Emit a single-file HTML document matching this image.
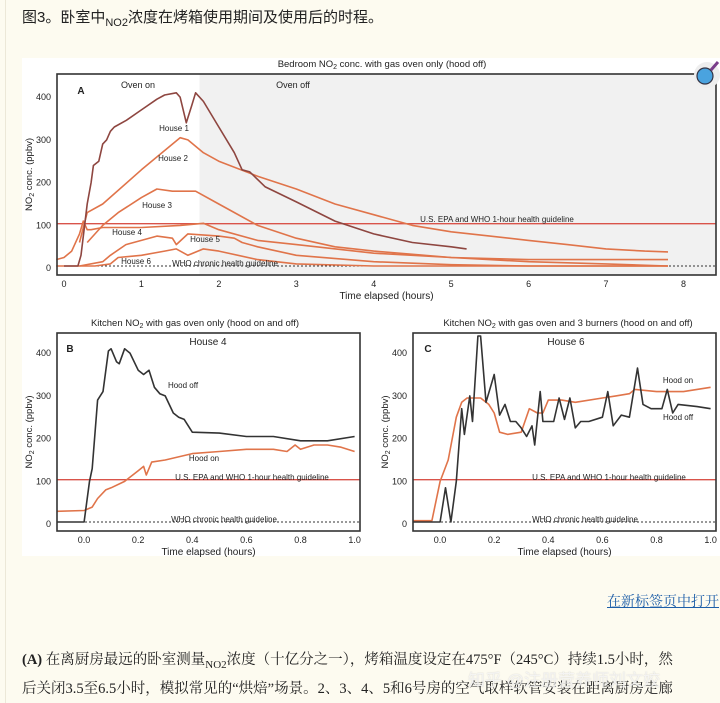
<!DOCTYPE html>
<html><head><meta charset="utf-8">
<style>
body{margin:0;width:720px;height:703px;overflow:hidden;background:#fdfbf0;font-family:"Liberation Sans","Noto Sans CJK SC",sans-serif;position:relative}
#border{position:absolute;left:5px;top:0;width:1px;height:703px;background:#ece8d8}
#title{position:absolute;left:22px;top:6px;font-size:15px;color:#222;font-family:"Liberation Sans","Noto Sans CJK SC",sans-serif}
#title sub{font-size:11px}
#card{position:absolute;left:22px;top:58px;width:698px;height:498px;background:#fff}
#link{position:absolute;left:607px;top:591px;font-size:14px;color:#1d5ea8;text-decoration:underline;white-space:nowrap;font-family:"Noto Serif CJK SC",serif}
.para{position:absolute;left:22px;font-size:14.5px;color:#222;white-space:nowrap;font-family:"Liberation Serif","Noto Serif CJK SC",serif}
.para sub{font-size:11px}
#wm{position:absolute;left:468px;top:666px;font-size:17px;color:rgba(255,255,255,0.75);white-space:nowrap;text-shadow:0 0 1px rgba(150,150,150,0.5)}
svg{position:absolute;left:0;top:0}
svg text{font-family:"Liberation Sans",sans-serif;fill:#222}
</style></head><body>
<div id="border"></div>
<div id="title">图3。卧室中<sub>NO2</sub>浓度在烤箱使用期间及使用后的时程。</div>
<div id="card"></div>
<svg id="chart" width="720" height="703"></svg>
<a id="link">在新标签页中打开</a>
<div class="para" style="top:648px"><b>(A)</b> 在离厨房最远的卧室测量<sub>NO2</sub>浓度（十亿分之一），烤箱温度设定在475°F（245°C）持续1.5小时，然</div>
<div class="para" style="top:677px">后关闭3.5至6.5小时，模拟常见的“烘焙”场景。2、3、4、5和6号房的空气取样软管安装在距离厨房走廊</div>
<div id="wm">知乎 @注册营养师刘文姣</div>
<script>
// Panel A data (hours, ppbv)
const aH1x=[0,0.18,0.22,0.3,0.35,0.38,0.45,0.5,0.55,0.6,0.65,0.8,1.0,1.2,1.3,1.45,1.5,1.58,1.65,1.7,1.8,2.0,2.2,2.3,2.4,2.6,3.0,3.5,4.0,4.5,5.0,5.2];
const aH1y=[5,5,30,150,200,240,250,290,300,320,330,345,370,395,405,410,400,340,380,410,390,330,270,230,225,190,155,110,80,60,50,45];
const aH2x=[0.2,0.3,0.5,1.0,1.5,1.6,1.8,2.0,2.5,3.0,3.5,4.0,4.5,5.0,5.5,6.0,6.5,7.0,7.5,7.8];
const aH2y=[60,130,150,230,305,300,270,250,215,185,150,125,100,85,75,65,55,45,40,38];
const aH3x=[0.3,0.5,0.7,1.0,1.2,1.4,1.7,2.0,2.5,3.0,3.5,4.0,5.0,6.0,7.0,7.8];
const aH3y=[60,100,130,165,185,180,180,150,100,70,50,40,25,15,10,5];
const aH4x=[-0.1,0,0.1,0.2,0.25,0.3,0.35,0.5,1.0,1.5,1.8,2.0,2.5,3.0,4.0,5.0,6.0,7.0,7.8];
const aH4y=[20,25,40,80,110,90,90,95,95,100,105,90,65,55,35,25,20,20,20];
const aH5x=[0.2,0.5,0.6,0.8,1.0,1.2,1.4,1.45,1.6,2.0,2.2,2.3,2.5,3.0,4.0,5.0,6.0,7.8];
const aH5y=[5,15,30,55,65,75,70,55,80,75,70,60,50,30,15,8,5,5];
const aH6x=[-0.1,0.4,0.6,0.7,1.0,1.3,1.45,1.6,1.8,2.0,2.5,3.0,4.0,6.0,7.8];
const aH6y=[5,5,10,25,30,40,45,30,45,40,20,10,5,5,5];
const aXTicks=[0,1,2,3,4,5,6,7,8];
const yTicks=[0,100,200,300,400];
// Panel B data
const bOffX=[-0.1,0.0,0.02,0.03,0.05,0.07,0.09,0.1,0.12,0.13,0.15,0.17,0.2,0.22,0.24,0.26,0.28,0.3,0.33,0.35,0.37,0.4,0.5,0.6,0.7,0.8,0.9,1.0];
const bOffY=[5,5,100,130,290,310,405,410,380,375,410,400,360,350,360,320,305,300,260,250,245,215,213,205,205,195,195,205];
const bOnX=[-0.1,0.0,0.03,0.05,0.08,0.1,0.15,0.2,0.22,0.23,0.25,0.3,0.4,0.5,0.6,0.7,0.75,0.78,0.8,0.85,0.9,0.95,1.0];
const bOnY=[30,32,40,60,80,85,100,125,135,115,145,150,165,170,175,175,170,185,175,185,185,180,170];
// Panel C data
const cOnX=[-0.1,-0.03,0.0,0.03,0.06,0.08,0.1,0.15,0.18,0.2,0.22,0.25,0.3,0.33,0.36,0.38,0.4,0.45,0.5,0.6,0.65,0.7,0.72,0.8,0.9,1.0];
const cOnY=[8,8,100,150,250,285,295,295,280,260,215,210,215,270,260,260,290,290,285,295,300,305,315,310,310,320];
const cOffX=[-0.1,0.0,0.02,0.04,0.06,0.08,0.09,0.11,0.12,0.14,0.15,0.17,0.2,0.22,0.24,0.26,0.28,0.3,0.32,0.34,0.35,0.37,0.38,0.42,0.44,0.46,0.48,0.5,0.52,0.55,0.6,0.62,0.64,0.67,0.7,0.73,0.75,0.78,0.82,0.84,0.86,0.88,0.95,1.0];
const cOffY=[5,5,85,5,100,270,210,300,240,440,440,285,350,255,280,240,240,225,205,230,185,310,240,240,295,245,295,225,240,240,250,310,230,255,250,365,280,270,270,315,260,280,275,270];
const bcXTicks=[0.0,0.2,0.4,0.6,0.8,1.0];

const svg=document.getElementById('chart');
const NS='http://www.w3.org/2000/svg';
function mk(tag,attrs,parent){const e=document.createElementNS(NS,tag);for(const k in attrs)e.setAttribute(k,attrs[k]);(parent||svg).appendChild(e);return e;}
function txt(x,y,s,size,anchor,parent){const t=mk('text',{x:x,y:y,'font-size':size,'text-anchor':anchor||'middle'},parent);t.textContent=s;return t;}

function panel(P){
  const g=mk('g',{});
  
  
  const sx=v=>P.x0+(v-P.xmin)/(P.xmax-P.xmin)*(P.x1-P.x0);
  const sy=v=>P.yb-(v-P.ymin)/(P.ymax-P.ymin)*(P.yb-P.yt);
  if(P.shadeFrom!=null){const r=mk('rect',{x:sx(P.shadeFrom),y:P.yt,width:P.x1-sx(P.shadeFrom),height:P.yb-P.yt,fill:'#f1f1f1'},g);
    
    }
  const epa=mk('line',{x1:P.x0,x2:P.x1,y1:sy(104),y2:sy(104),stroke:'#d9534a','stroke-width':1.4},g);
  
  
  const who=mk('line',{x1:P.x0,x2:P.x1,y1:sy(5),y2:sy(5),stroke:'#333','stroke-width':1,'stroke-dasharray':'2,2'},g);
  
  
  P.series.forEach(s=>{
    const pts=s.x.map((v,i)=>sx(v).toFixed(1)+','+sy(s.y[i]).toFixed(1)).join(' ');
    const pl=mk('polyline',{points:pts,fill:'none',stroke:s.color,'stroke-width':1.6,'stroke-linejoin':'round'},g);
    
    
  });
  const fr=mk('rect',{x:P.x0,y:P.yt,width:P.x1-P.x0,height:P.yb-P.yt,fill:'none',stroke:'#333','stroke-width':1.6},g);
  
  
  P.xt.forEach(v=>{const t=txt(sx(v),P.yb+12,P.xfmt(v),9,'middle',g);
    
    
    t.setAttribute('font-family','Liberation Serif');});
  yTicks.forEach(v=>{const t=txt(P.x0-6,sy(v)+3,String(v),9,'end',g);
    
    
    t.setAttribute('font-family','Liberation Serif');});
  const xl=txt((P.x0+P.x1)/2,P.yb+24,'Time elapsed (hours)',10,'middle',g);
  
  
  const yl=mk('text',{x:0,y:0,'font-size':9.5,'text-anchor':'middle',transform:`translate(${P.x0-25},${(P.yt+P.yb)/2}) rotate(-90)`},g);
  yl.innerHTML='NO<tspan font-size="7" dy="2">2</tspan><tspan dy="-2"> conc. (ppbv)</tspan>';
  
  
  const ti=mk('text',{x:P.tx,y:P.yt-7,'font-size':9.5,'text-anchor':'middle'},g);
  ti.innerHTML=P.title[0]+'NO<tspan font-size="7" dy="2">2</tspan><tspan dy="-2">'+P.title[1]+'</tspan>';
  
  
  P.labels.forEach(l=>{const t=txt(l[0],l[1],l[2],l[3]||8,l[4]||'middle',g);
    
    
    if(l[5])t.setAttribute('font-weight','bold');});
}
const OR='#e0744a', BR='#8e4640', BK='#333';
panel({name:'panel-a-bedroom',x0:57,x1:716,yt:74,yb:275,xmin:-0.09,xmax:8.42,ymin:-16,ymax:454,shadeFrom:1.75,
  xt:aXTicks,xfmt:v=>String(v),tx:382,title:['Bedroom ',' conc. with gas oven only (hood off)'],
  series:[{name:'house-2-line',x:aH2x,y:aH2y,color:OR},{name:'house-3-line',x:aH3x,y:aH3y,color:OR},{name:'house-4-line',x:aH4x,y:aH4y,color:OR},{name:'house-5-line',x:aH5x,y:aH5y,color:OR},{name:'house-6-line',x:aH6x,y:aH6y,color:OR},{name:'house-1-line',x:aH1x,y:aH1y,color:BR}],
  labels:[[81,94,'A',10,'middle',true],[138,88,'Oven on',9],[293,88,'Oven off',9],[174,131,'House 1'],[173,161,'House 2'],[157,208,'House 3'],[127,235,'House 4'],[205,242,'House 5'],[136,264,'House 6'],[225,266,'WHO chronic health guideline'],[497,222,'U.S. EPA and WHO 1-hour health guideline']]});
panel({name:'panel-b-kitchen-house4',x0:57,x1:360,yt:333,yb:531,xmin:-0.1,xmax:1.02,ymin:-16,ymax:447,
  xt:bcXTicks,xfmt:v=>v.toFixed(1),tx:195,title:['Kitchen ',' with gas oven only (hood on and off)'],
  series:[{name:'hood-on-line',x:bOnX,y:bOnY,color:OR},{name:'hood-off-line',x:bOffX,y:bOffY,color:BK}],
  labels:[[70,352,'B',10,'middle',true],[208,345,'House 4',10],[183,388,'Hood off'],[204,461,'Hood on'],[252,480,'U.S. EPA and WHO 1-hour health guideline'],[224,522,'WHO chronic health guideline']]});
panel({name:'panel-c-kitchen-house6',x0:413,x1:716,yt:333,yb:531,xmin:-0.1,xmax:1.02,ymin:-16,ymax:447,
  xt:bcXTicks,xfmt:v=>v.toFixed(1),tx:568,title:['Kitchen ',' with gas oven and 3 burners (hood on and off)'],
  series:[{name:'hood-on-line',x:cOnX,y:cOnY,color:OR},{name:'hood-off-line',x:cOffX,y:cOffY,color:BK}],
  labels:[[428,352,'C',10,'middle',true],[566,345,'House 6',10],[678,383,'Hood on'],[678,420,'Hood off'],[609,480,'U.S. EPA and WHO 1-hour health guideline'],[585,522,'WHO chronic health guideline']]});
const ic=mk('g',{});


mk('circle',{cx:707,cy:75,r:13,fill:'#eee'},ic);
mk('circle',{cx:705,cy:76,r:8,fill:'#4aa3df',stroke:'#334',"stroke-width":1.2},ic);
mk('line',{x1:711,y1:70,x2:718,y2:62,stroke:'#7a3d8a','stroke-width':3},ic);
</script>
</body></html>
